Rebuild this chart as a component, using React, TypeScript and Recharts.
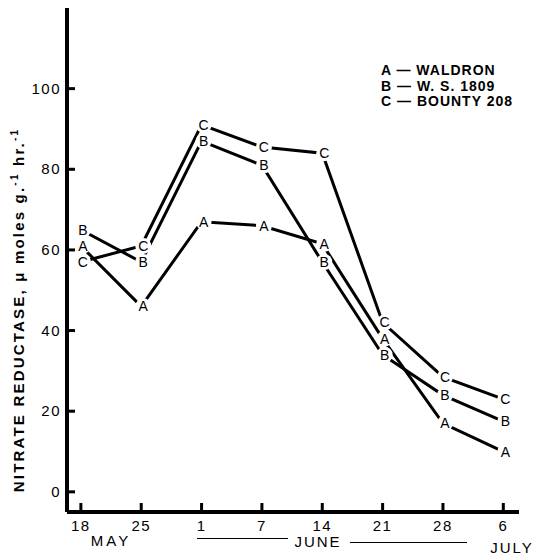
import { LineChart, Line, XAxis, YAxis } from "recharts";

const dates = ["18", "25", "1", "7", "14", "21", "28", "6"];
const waldron = [61, 46, 67, 66, 61.5, 38, 17, 10];
const ws1809 = [65, 57, 87, 81, 57, 34, 24, 17.5];
const bounty208 = [57, 61, 91, 85.5, 84, 42, 28.5, 23];
const yTicks = [0, 20, 40, 60, 80, 100];

const data = dates.map((d, i) => ({ i, d, A: waldron[i], B: ws1809[i], C: bounty208[i] }));

const FONT = "'Liberation Sans', Arial, sans-serif";

function YTick({ x, y, payload }: any) {
  return (
    <g>
      <line x1={x} x2={x + 8} y1={y} y2={y} stroke="#000" strokeWidth={3} />
      <text x={x - 6} y={y} dy={5} textAnchor="end" fontSize={15} fontFamily={FONT} letterSpacing={1.5} fill="#000">
        {payload.value}
      </text>
    </g>
  );
}

function XTick({ x, y, payload }: any) {
  return (
    <g>
      <line x1={x} x2={x} y1={y} y2={y - 9} stroke="#000" strokeWidth={3} />
      <text x={x} y={y + 19} textAnchor="middle" fontSize={15} fontFamily={FONT} letterSpacing={1.5} fill="#000">
        {dates[payload.value]}
      </text>
    </g>
  );
}

const letter = (ch: string) => (p: any) => (
  <g key={`${ch}-${p.index}`}>
    <circle cx={p.cx + 2} cy={p.cy} r={8} fill="#fff" />
    <text x={p.cx + 2} y={p.cy} dy={5} textAnchor="middle" fontSize={14} fontFamily={FONT} fill="#000">
      {ch}
    </text>
  </g>
);

const series = ["A", "B", "C"];

export default function App() {
  return (
    <div style={{ position: "absolute", left: 0, top: 0, width: 546, height: 554, background: "#fff", fontFamily: FONT }}>
      <LineChart width={546} height={554} data={data} margin={{ top: 8, right: 27, bottom: 0, left: 0 }}>
        <XAxis
          dataKey="i"
          type="number"
          domain={[-0.23, 7.26]}
          ticks={[0, 1, 2, 3, 4, 5, 6, 7]}
          height={42}
          tickLine={false}
          tickSize={0}
          tickMargin={0}
          axisLine={{ stroke: "#000", strokeWidth: 4 }}
          tick={<XTick />}
          allowDataOverflow
        />
        <YAxis
          type="number"
          domain={[-5, 120]}
          ticks={yTicks}
          width={67}
          tickLine={false}
          tickSize={0}
          tickMargin={0}
          axisLine={{ stroke: "#000", strokeWidth: 4 }}
          tick={<YTick />}
          allowDataOverflow
        />
        {series.map((k) => (
          <Line
            key={`l-${k}`}
            dataKey={k}
            stroke="#000"
            strokeWidth={3}
            dot={false}
            activeDot={false}
            type="linear"
            isAnimationActive={false}
          />
        ))}
        {series.map((k) => (
          <Line
            key={`m-${k}`}
            dataKey={k}
            stroke="none"
            strokeWidth={0}
            dot={letter(k)}
            activeDot={false}
            type="linear"
            isAnimationActive={false}
          />
        ))}
      </LineChart>

      <div style={{ position: "absolute", left: 381, top: 63, fontSize: 14, fontWeight: 700, lineHeight: "15.5px", letterSpacing: 1, whiteSpace: "pre" }}>
        <div>{"A — WALDRON"}</div>
        <div>{"B — W. S. 1809"}</div>
        <div>{"C — BOUNTY 208"}</div>
      </div>

      <div
        style={{
          position: "absolute",
          left: 18,
          top: 310,
          transform: "translate(-50%, -50%) rotate(-90deg)",
          whiteSpace: "nowrap",
          fontSize: 15,
          fontWeight: 700,
          letterSpacing: 2.2,
        }}
      >
        NITRATE REDUCTASE, μ moles g.<sup style={{ fontSize: 10 }}>-1</sup> hr.<sup style={{ fontSize: 10 }}>-1</sup>
      </div>

      <div style={{ position: "absolute", left: 111, top: 540, transform: "translate(-50%, -50%)", fontSize: 15, letterSpacing: 3 }}>MAY</div>
      <div style={{ position: "absolute", left: 197, top: 538, width: 91, borderTop: "1.5px solid #000" }} />
      <div style={{ position: "absolute", left: 318, top: 541, transform: "translate(-50%, -50%)", fontSize: 15, letterSpacing: 2 }}>JUNE</div>
      <div style={{ position: "absolute", left: 350, top: 542, width: 117, borderTop: "1.5px solid #000" }} />
      <div style={{ position: "absolute", left: 512, top: 547, transform: "translate(-50%, -50%)", fontSize: 15, letterSpacing: 2 }}>JULY</div>
    </div>
  );
}
